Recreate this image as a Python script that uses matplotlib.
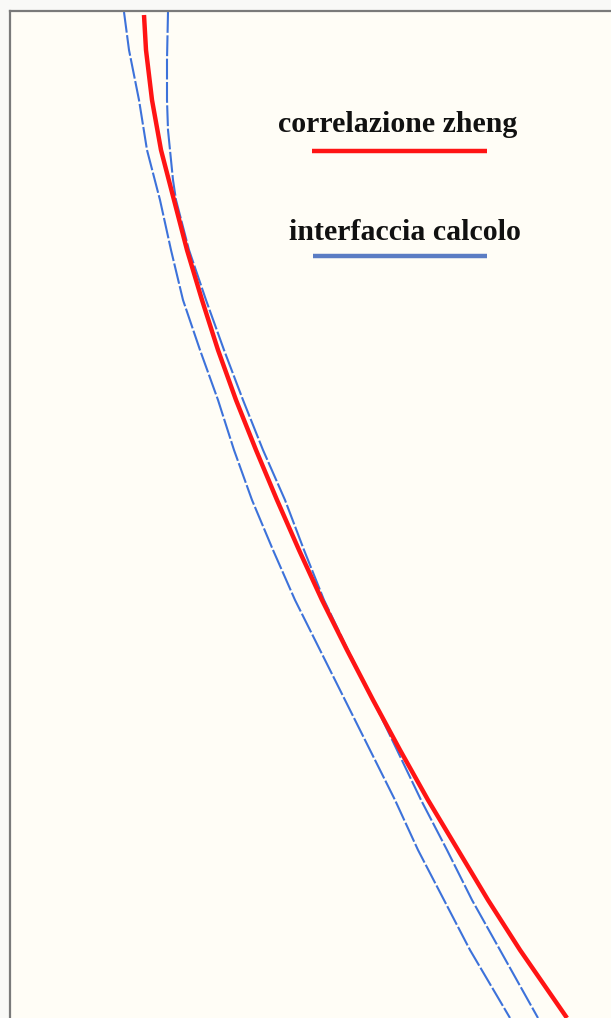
import numpy as np
import matplotlib.pyplot as plt

# curve values (x, depth) - y axis points down
red_y = [15, 50, 100, 150, 200, 250, 300, 350, 400, 450, 500, 550, 600, 650, 700, 750, 800, 850, 900, 950, 1018]
red_x = [144, 146, 152, 161, 174, 187, 202, 218, 236, 256, 277, 299, 322, 347, 373, 400, 428, 458, 488, 520, 567]

blue1_y = [12, 50, 100, 150, 200, 250, 300, 350, 400, 450, 500, 550, 600, 650, 700, 750, 800, 850, 900, 950, 1018]
blue1_x = [124, 129, 139, 147, 160, 171, 183, 200, 218, 234, 252, 273, 295, 320, 345, 370, 395, 418, 444, 470, 510]

blue2_y = [12, 60, 100, 130, 150, 180, 200, 250, 300, 350, 400, 450, 500, 550, 600, 650, 700, 750, 800, 850, 900, 950, 1018]
blue2_x = [168, 167, 167, 168, 170, 173, 176, 189, 206, 224, 243, 263, 285, 304, 324, 348, 373, 397, 421, 447, 472, 500, 538]

labels = ['correlazione zheng', 'interfaccia calcolo']

fig = plt.figure(figsize=(6.11, 10.18), dpi=100)
fig.patch.set_facecolor('#f9f9f7')
ax = fig.add_axes([10 / 611, 0, 1 - 10 / 611, 1 - 11 / 1018])
ax.set_facecolor('#fffdf6')
ax.set_xlim(10, 611)
ax.set_ylim(1018, 11)

ax.plot(blue1_x, blue1_y, color='#3d72da', lw=1.5, ls=(0, (10, 1.2)))
ax.plot(blue2_x, blue2_y, color='#3d72da', lw=1.5, ls=(0, (10, 1.2)))
ax.plot(red_x, red_y, color='#ff1414', lw=3.2, solid_capstyle='butt')

for s in ['right', 'bottom']:
    ax.spines[s].set_visible(False)
for s in ['left', 'top']:
    ax.spines[s].set_color('#7a7a7a')
    ax.spines[s].set_linewidth(1.6)
ax.set_xticks([])
ax.set_yticks([])

# hand-made legend: label with a coloured bar under it
font = dict(family='Liberation Serif', weight='bold', size=21.5, color='#111111')
ax.text(398, 124, labels[0], ha='center', va='center', **font)
ax.plot([312, 487], [151, 151], color='#ff1414', lw=3.2, solid_capstyle='butt')
ax.text(405, 232, labels[1], ha='center', va='center', **font)
ax.plot([313, 487], [256, 256], color='#5b7dc4', lw=3.2, solid_capstyle='butt')

fig.savefig('out.png', dpi=100, facecolor=fig.get_facecolor())
